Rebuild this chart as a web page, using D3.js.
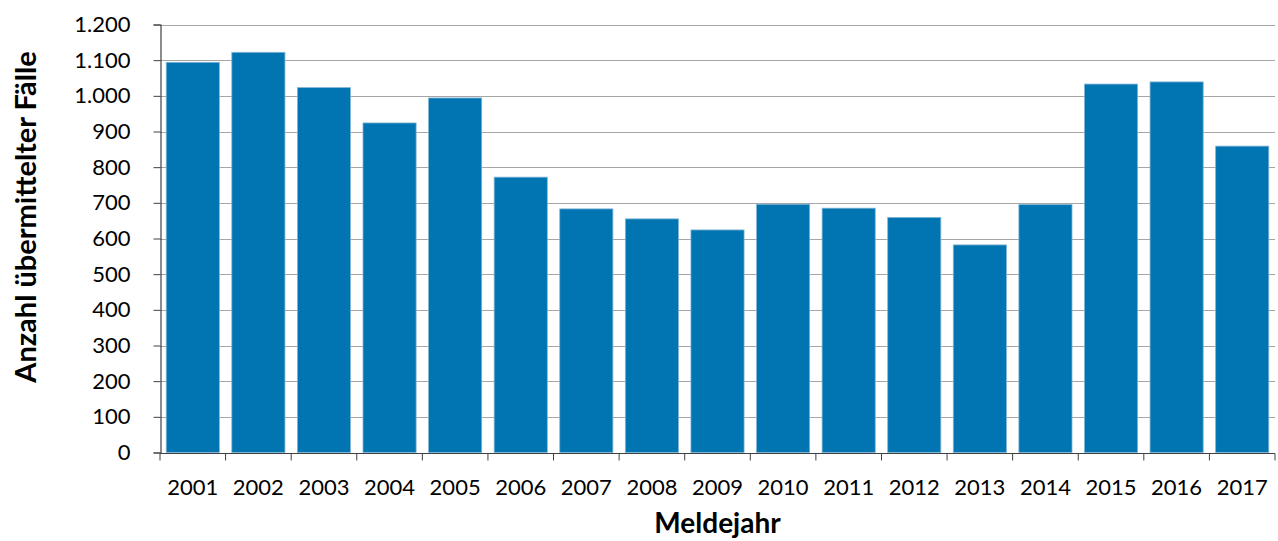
<!DOCTYPE html>
<html>
<head>
<meta charset="utf-8">
<script src="https://cdn.jsdelivr.net/npm/d3@7"></script>
<style>
  html, body { margin: 0; padding: 0; background: #fff; }
  svg { display: block; font-family: Lato, "Open Sans", sans-serif; }
</style>
</head>
<body>
<svg id="chart" width="1278" height="541"></svg>
<script>
// Übermittelte Fälle je Meldejahr
const years = ["2001","2002","2003","2004","2005","2006","2007","2008","2009",
               "2010","2011","2012","2013","2014","2015","2016","2017"];
const cases = [1094, 1122, 1023, 924, 994, 772, 683, 655, 624,
               696, 685, 659, 582, 695, 1033, 1039, 859];
const yTicks = [0, 100, 200, 300, 400, 500, 600, 700, 800, 900, 1000, 1100, 1200];

const svg = d3.select("#chart");
const margin = { left: 160, right: 3, top: 24.5, bottom: 88.5 };
const W = 1278, H = 541;

const x = d3.scaleBand()
  .domain(years)
  .range([margin.left, W - margin.right])
  .paddingInner(0.19)
  .paddingOuter(0.095);

const y = d3.scaleLinear()
  .domain([0, 1200])
  .range([H - margin.bottom, margin.top]);

const fmt = v => d3.format(",")(v).replace(/,/g, ".");

// Horizontal gridlines
svg.append("g")
  .selectAll("line")
  .data(yTicks.filter(d => d > 0))
  .join("line")
  .attr("x1", margin.left).attr("x2", W - margin.right)
  .attr("y1", d => Math.round(y(d)) + 0.5).attr("y2", d => Math.round(y(d)) + 0.5)
  .attr("stroke", "#a6a6a6").attr("stroke-width", 1.2);

// Bars
svg.append("g")
  .selectAll("rect")
  .data(years)
  .join("rect")
  .attr("x", d => x(d))
  .attr("width", x.bandwidth())
  .attr("y", (d, i) => y(cases[i]))
  .attr("height", (d, i) => y(0) - y(cases[i]))
  .attr("fill", "#0075b1")
  .attr("stroke", "#7fb5d6")
  .attr("stroke-width", 0.8);

// Y axis
const yAxis = d3.axisLeft(y).tickValues(yTicks).tickFormat(fmt).tickSize(7).tickPadding(23);
const gy = svg.append("g")
  .attr("transform", `translate(${margin.left + 0.5},0)`)
  .call(yAxis);
gy.selectAll("text").attr("font-size", 22).attr("fill", "#000").attr("font-family", "Lato, sans-serif");
gy.selectAll("line").attr("stroke", "#404040");
gy.select(".domain").attr("stroke", "#404040").attr("stroke-width", 1.2);

// X axis: ticks at band boundaries
const gx = svg.append("g")
  .attr("transform", `translate(0,${Math.round(y(0)) + 0.5})`);
gx.append("line")
  .attr("x1", margin.left).attr("x2", W - margin.right)
  .attr("stroke", "#404040").attr("stroke-width", 1.2);
const bounds = d3.range(years.length + 1).map(i => margin.left + i * (W - margin.right - margin.left) / years.length);
gx.selectAll("line.tk")
  .data(bounds)
  .join("line")
  .attr("class", "tk")
  .attr("x1", d => d).attr("x2", d => d)
  .attr("y1", 0).attr("y2", 7)
  .attr("stroke", "#404040");
gx.selectAll("text")
  .data(years)
  .join("text")
  .attr("x", d => x(d) + x.bandwidth() / 2)
  .attr("y", 41)
  .attr("text-anchor", "middle")
  .attr("font-size", 22)
  .attr("fill", "#000")
  .text(d => d);

// Axis titles
svg.append("text")
  .attr("transform", `translate(36,217) rotate(-90)`)
  .attr("text-anchor", "middle")
  .attr("font-size", 29)
  .attr("font-weight", "bold")
  .attr("fill", "#000")
  .text("Anzahl übermittelter Fälle");

svg.append("text")
  .attr("x", (margin.left + W - margin.right) / 2)
  .attr("y", 533)
  .attr("text-anchor", "middle")
  .attr("font-size", 28)
  .attr("font-weight", "bold")
  .attr("fill", "#000")
  .text("Meldejahr");
</script>
</body>
</html>
